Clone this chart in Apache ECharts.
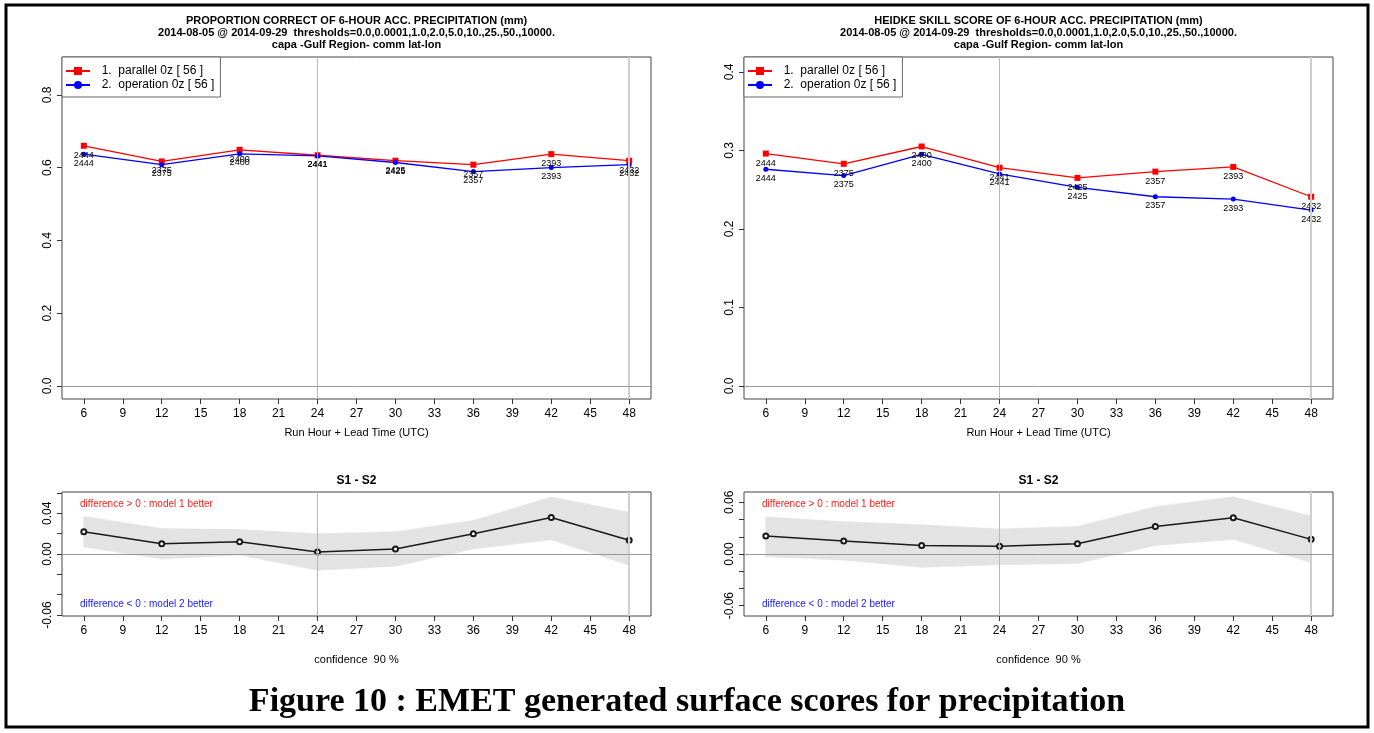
<!DOCTYPE html>
<html>
<head>
<meta charset="utf-8">
<script src="https://cdn.jsdelivr.net/npm/echarts@6/dist/echarts.min.js"></script>
<style>
  html, body { margin: 0; padding: 0; background: #fff; }
  #chart { width: 1374px; height: 733px; }
</style>
</head>
<body>
<div id="chart"></div>
<script>
// lead hours and sample counts
const hours = [6, 12, 18, 24, 30, 36, 42, 48];
const counts = [2444, 2375, 2400, 2441, 2425, 2357, 2393, 2432];

// proportion correct
const pcParallel = [0.660, 0.617, 0.649, 0.634, 0.619, 0.608, 0.637, 0.619];
const pcOperation = [0.637, 0.608, 0.638, 0.632, 0.614, 0.589, 0.600, 0.608];

// heidke skill score
const hssParallel = [0.296, 0.283, 0.305, 0.278, 0.265, 0.273, 0.279, 0.241];
const hssOperation = [0.276, 0.268, 0.295, 0.270, 0.253, 0.241, 0.238, 0.224];

// S1 - S2 with 90% confidence band
const pcDiff = [0.022, 0.010, 0.012, 0.002, 0.005, 0.020, 0.036, 0.0135];
const pcDiffHi = [0.037, 0.025, 0.024, 0.020, 0.022, 0.033, 0.056, 0.041];
const pcDiffLo = [0.007, -0.005, -0.001, -0.016, -0.012, 0.005, 0.014, -0.011];

const hssDiff = [0.021, 0.015, 0.010, 0.009, 0.012, 0.032, 0.042, 0.017];
const hssDiffHi = [0.043, 0.0375, 0.034, 0.029, 0.032, 0.055, 0.0665, 0.044];
const hssDiffLo = [-0.003, -0.007, -0.0155, -0.0124, -0.011, 0.010, 0.017, -0.010];

// ticks and labels
const xTicks = [6, 9, 12, 15, 18, 21, 24, 27, 30, 33, 36, 39, 42, 45, 48];
const pcTicks = [0, 0.2, 0.4, 0.6, 0.8];
const hssTicks = [0, 0.1, 0.2, 0.3, 0.4];
const diffTicks = [-0.06, -0.04, -0.02, 0, 0.02, 0.04, 0.06];
const pcDiffLabels = [-0.06, 0, 0.04];
const hssDiffLabels = [-0.06, 0, 0.06];

const names = ['1.  parallel 0z [ 56 ]', '2.  operation 0z [ 56 ]'];
const FONT = '"Liberation Sans", Arial, sans-serif';
const RED = '#ff0000', BLUE = '#0000ff', REF = '#b8b8b8', BAND = '#e3e3e3';

const chart = echarts.init(document.getElementById('chart'), null, { renderer: 'canvas' });

const grids = [
  { left: 62, top: 57, width: 589, height: 342 },
  { left: 744, top: 57, width: 589, height: 342 },
  { left: 62, top: 492, width: 589, height: 124 },
  { left: 744, top: 492, width: 589, height: 124 },
].map(g => ({ ...g, show: true, borderColor: '#444', borderWidth: 1, backgroundColor: 'transparent' }));

function xAxis(gridIndex, name, nameGap) {
  return {
    type: 'value', gridIndex, min: 4.32, max: 49.68, position: 'bottom',
    axisLine: { show: false, onZero: false },
    splitLine: { show: false },
    axisTick: { show: true, customValues: xTicks, length: 5, lineStyle: { color: '#333' } },
    axisLabel: { customValues: xTicks, color: '#000', fontSize: 12, fontFamily: FONT, margin: 9 },
    name, nameLocation: 'middle', nameGap,
    nameTextStyle: { color: '#000', fontSize: 11, fontFamily: FONT },
  };
}

function yAxis(gridIndex, min, max, ticks, labels, digits) {
  return {
    type: 'value', gridIndex, min, max, position: 'left',
    axisLine: { show: false, onZero: false },
    splitLine: { show: false },
    axisTick: { show: true, customValues: ticks, length: 5, lineStyle: { color: '#333' } },
    axisLabel: {
      customValues: labels, rotate: 90, color: '#000', fontSize: 12, fontFamily: FONT, margin: 8,
      formatter: v => Number(v).toFixed(digits),
    },
  };
}

function refLines(axisIndex) {
  return {
    type: 'line', xAxisIndex: axisIndex, yAxisIndex: axisIndex, data: [], z: 1, silent: true,
    markLine: {
      silent: true, symbol: 'none', animation: false,
      label: { show: false },
      lineStyle: { color: REF, width: 1, type: 'solid' },
      data: [{ xAxis: 24 }, { xAxis: 48, lineStyle: { color: '#cfcfcf', width: 2 } }, { yAxis: 0, lineStyle: { color: '#999', width: 1 } }],
    },
  };
}

function scoreSeries(axisIndex, values, name, color, symbol) {
  return {
    type: 'line', name, xAxisIndex: axisIndex, yAxisIndex: axisIndex, z: 4,
    data: hours.map((h, i) => [h, values[i]]),
    symbol, symbolSize: symbol === 'rect' ? 6 : 5,
    lineStyle: { color, width: 1.3 }, itemStyle: { color },
    label: {
      show: true, position: 'bottom', distance: 2, color: '#000', fontSize: 9, fontFamily: FONT,
      formatter: p => counts[p.dataIndex],
    },
  };
}

// confidence band: one quad between each pair of neighbouring hours
function bandItem(params, api) {
  const i = params.dataIndexInside;
  if (i >= hours.length - 1) return null;
  const a = api.coord([api.value(0, i), api.value(1, i)]);
  const b = api.coord([api.value(0, i + 1), api.value(1, i + 1)]);
  const c = api.coord([api.value(0, i + 1), api.value(2, i + 1)]);
  const d = api.coord([api.value(0, i), api.value(2, i)]);
  return {
    type: 'polygon', shape: { points: [a, b, c, d] },
    style: { fill: BAND, stroke: BAND, lineWidth: 0.6 },
  };
}

function diffSeries(axisIndex, mid, lo, hi) {
  return [
    {
      type: 'custom', xAxisIndex: axisIndex, yAxisIndex: axisIndex, z: 0, silent: true,
      renderItem: bandItem, encode: { x: 0, y: [1, 2] },
      data: hours.map((h, i) => [h, lo[i], hi[i]]),
    },
    {
      type: 'line', xAxisIndex: axisIndex, yAxisIndex: axisIndex, z: 4,
      data: hours.map((h, i) => [h, mid[i]]),
      symbol: 'emptyCircle', symbolSize: 5,
      lineStyle: { color: '#1a1a1a', width: 1.5 },
      itemStyle: { color: '#1a1a1a', borderWidth: 1.5 },
    },
  ];
}

function legend(left) {
  return {
    orient: 'vertical', left, top: 57, data: names,
    backgroundColor: '#fff', borderColor: '#666', borderWidth: 1, borderRadius: 0,
    padding: [8, 6, 6, 3], itemGap: 2, itemWidth: 24, itemHeight: 10,
    formatter: n => '  ' + n,
    textStyle: { color: '#000', fontSize: 12, fontFamily: FONT },
    selectedMode: false,
  };
}

function text(x, y, str, font, fill, align) {
  return { type: 'text', x, y, silent: true, style: { text: str, font, fill: fill || '#000', align: align || 'center', verticalAlign: 'middle' } };
}

const titleFont = 'bold 11px ' + FONT;
const thresholds = '2014-08-05 @ 2014-09-29  thresholds=0.0,0.0001,1.0,2.0,5.0,10.,25.,50.,10000.';

chart.setOption({
  animation: false,
  grid: grids,
  xAxis: [
    xAxis(0, 'Run Hour + Lead Time (UTC)', 28),
    xAxis(1, 'Run Hour + Lead Time (UTC)', 28),
    xAxis(2, 'confidence  90 %', 38),
    xAxis(3, 'confidence  90 %', 38),
  ],
  yAxis: [
    yAxis(0, -0.036, 0.904, pcTicks, pcTicks, 1),
    yAxis(1, -0.0166, 0.419, hssTicks, hssTicks, 1),
    yAxis(2, -0.061, 0.061, diffTicks, pcDiffLabels, 2),
    yAxis(3, -0.072, 0.072, diffTicks, hssDiffLabels, 2),
  ],
  legend: [legend(62), legend(744)],
  series: [
    refLines(0), refLines(1), refLines(2), refLines(3),
    scoreSeries(0, pcParallel, names[0], RED, 'rect'),
    scoreSeries(0, pcOperation, names[1], BLUE, 'circle'),
    scoreSeries(1, hssParallel, names[0], RED, 'rect'),
    scoreSeries(1, hssOperation, names[1], BLUE, 'circle'),
    ...diffSeries(2, pcDiff, pcDiffLo, pcDiffHi),
    ...diffSeries(3, hssDiff, hssDiffLo, hssDiffHi),
  ],
  graphic: [
    { type: 'rect', silent: true, shape: { x: 6, y: 5, width: 1362, height: 722 }, style: { fill: 'none', stroke: '#000', lineWidth: 3 } },
    text(356.5, 21, 'PROPORTION CORRECT OF 6-HOUR ACC. PRECIPITATION (mm)', titleFont),
    text(356.5, 33, thresholds, titleFont),
    text(356.5, 45, 'capa -Gulf Region- comm lat-lon', titleFont),
    text(1038.5, 21, 'HEIDKE SKILL SCORE OF 6-HOUR ACC. PRECIPITATION (mm)', titleFont),
    text(1038.5, 33, thresholds, titleFont),
    text(1038.5, 45, 'capa -Gulf Region- comm lat-lon', titleFont),
    text(356.5, 481, 'S1 - S2', 'bold 12px ' + FONT),
    text(1038.5, 481, 'S1 - S2', 'bold 12px ' + FONT),
    text(80, 504, 'difference > 0 : model 1 better', '10px ' + FONT, '#ff2020', 'left'),
    text(80, 604, 'difference < 0 : model 2 better', '10px ' + FONT, '#2020ff', 'left'),
    text(762, 504, 'difference > 0 : model 1 better', '10px ' + FONT, '#ff2020', 'left'),
    text(762, 604, 'difference < 0 : model 2 better', '10px ' + FONT, '#2020ff', 'left'),
    text(687, 702, 'Figure 10 : EMET generated surface scores for precipitation', 'bold 34px "Liberation Serif", "Times New Roman", serif'),
  ],
});
</script>
</body>
</html>
